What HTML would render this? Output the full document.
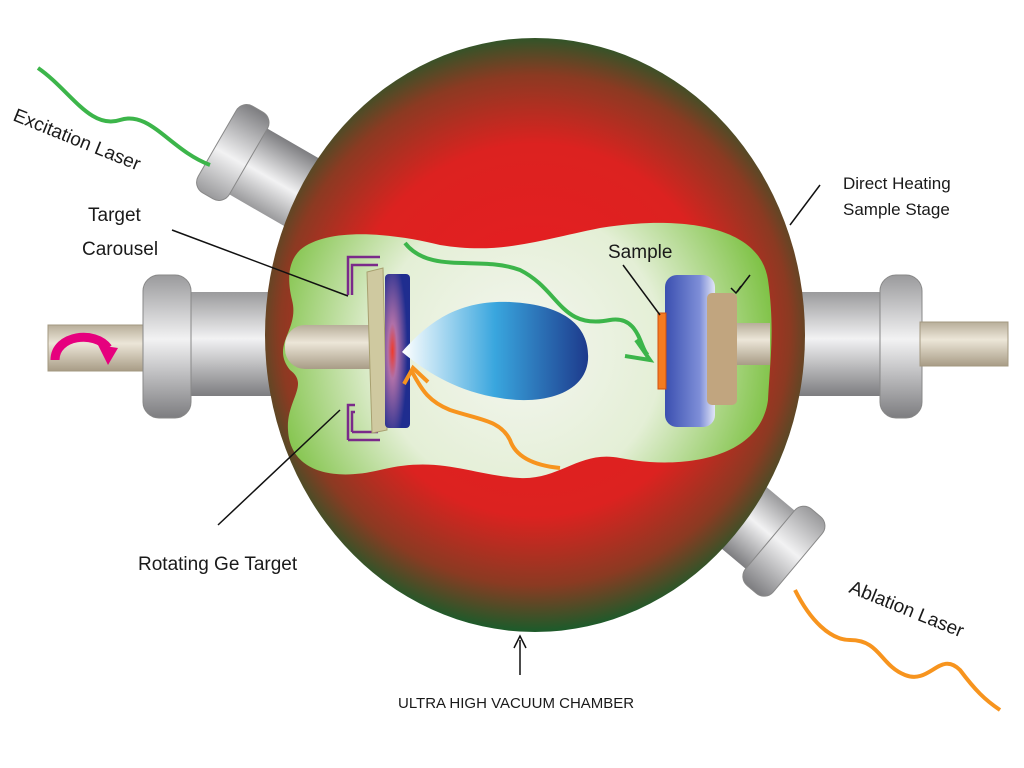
<!DOCTYPE html>
<html><head><meta charset="utf-8"><style>html,body{margin:0;padding:0;background:#fff}svg{display:block}</style></head><body>
<svg width="1024" height="768" viewBox="0 0 1024 768" xmlns="http://www.w3.org/2000/svg" font-family="'Liberation Sans', sans-serif">
<defs>
<radialGradient id="sph" cx="535" cy="330" r="300" gradientUnits="userSpaceOnUse">
<stop offset="0" stop-color="#e81c22"/><stop offset="0.62" stop-color="#dc2220"/><stop offset="0.85" stop-color="#8b3a22"/><stop offset="1" stop-color="#1f5a2a"/></radialGradient>
<radialGradient id="inner" cx="520" cy="350" r="260" gradientUnits="userSpaceOnUse">
<stop offset="0" stop-color="#f4f6f0"/><stop offset="0.55" stop-color="#e4efd6"/><stop offset="1" stop-color="#7cc142"/></radialGradient>
<linearGradient id="metV" x1="0" y1="0" x2="0" y2="1"><stop offset="0" stop-color="#9a9a9c"/><stop offset="0.45" stop-color="#f2f2f3"/><stop offset="1" stop-color="#7d7d80"/></linearGradient>
<linearGradient id="rod" x1="0" y1="0" x2="0" y2="1"><stop offset="0" stop-color="#b8ae9a"/><stop offset="0.4" stop-color="#ece6d8"/><stop offset="1" stop-color="#a89c86"/></linearGradient>
<linearGradient id="plume" x1="0" y1="0" x2="1" y2="0"><stop offset="0" stop-color="#ffffff"/><stop offset="0.5" stop-color="#39a6de"/><stop offset="1" stop-color="#1d3a8c"/></linearGradient>
<linearGradient id="holder" x1="0" y1="0" x2="1" y2="0"><stop offset="0" stop-color="#3a4fb0"/><stop offset="0.7" stop-color="#7f8fd8"/><stop offset="1" stop-color="#e2e6f6"/></linearGradient>
<radialGradient id="tgt" cx="0.3" cy="0.5" r="0.6"><stop offset="0" stop-color="#f03a2a"/><stop offset="0.3" stop-color="#b070a8"/><stop offset="1" stop-color="#1f2d8f"/></radialGradient>
<g id="port">
<rect x="0" y="-38" width="90" height="76" fill="url(#metV)"/>
<rect x="85" y="-50" width="36" height="100" rx="12" fill="url(#metV)" stroke="#888" stroke-width="1"/>
</g>
</defs>
<!-- side ports -->
<rect x="48" y="325" width="110" height="46" fill="url(#rod)" stroke="#a39880"/>
<rect x="180" y="292" width="120" height="104" fill="url(#metV)"/>
<rect x="143" y="275" width="48" height="143" rx="16" fill="url(#metV)" stroke="#888"/>
<rect x="770" y="292" width="115" height="104" fill="url(#metV)"/>
<rect x="880" y="275" width="42" height="143" rx="16" fill="url(#metV)" stroke="#888"/>
<rect x="920" y="322" width="88" height="44" fill="url(#rod)" stroke="#a39880"/>
<!-- angled ports -->
<g transform="translate(322,204) rotate(210)"><use href="#port"/></g>
<g transform="translate(705,485) rotate(40)"><use href="#port"/></g>
<!-- sphere -->
<ellipse cx="535" cy="335" rx="270" ry="297" fill="url(#sph)"/>
<!-- inner chamber -->
<path d="M300,250 C330,225 400,235 440,245 C500,255 540,240 600,228 C680,215 760,225 768,280 C775,330 770,360 768,400 C760,460 680,470 620,458 C580,450 560,480 520,478 C470,475 440,455 380,470 C330,482 290,470 288,430 C286,400 310,385 290,370 C270,345 300,330 292,300 C286,275 290,260 300,250 Z" fill="url(#inner)"/>
<!-- rods inside -->
<rect x="285" y="325" width="110" height="44" rx="20" fill="url(#rod)"/>
<rect x="720" y="323" width="50" height="42" fill="url(#rod)"/>
<!-- carousel brackets -->
<path d="M355,257 H348 V295 M355,265 H352 V295 M355,405 H348 V440 M355,412 H352 V432 M348,440 H380 M352,432 H378 M348,257 H380 M352,265 H378" stroke="#7a2a8a" stroke-width="2.5" fill="none"/>
<!-- target -->
<path d="M367,272 L383,268 L387,430 L372,433 Z" fill="#cfc9a0" stroke="#a8a070"/>
<rect x="385" y="274" width="25" height="154" rx="4" fill="url(#tgt)"/>
<!-- plume -->
<path d="M402,352 C430,320 460,300 510,302 C570,305 590,330 588,360 C585,395 540,405 500,398 C460,392 430,375 402,352 Z" fill="url(#plume)"/>
<!-- sample holder -->
<rect x="665" y="275" width="50" height="152" rx="12" fill="url(#holder)"/>
<rect x="707" y="293" width="30" height="112" rx="5" fill="#c1a57f"/>
<rect x="658" y="313" width="8" height="76" fill="#f47b20" stroke="#d05010" stroke-width="1"/>
<!-- lasers -->
<path d="M38,68 C70,90 90,130 120,120 C150,110 170,150 210,165" stroke="#3cb54a" stroke-width="4" fill="none"/>
<path d="M405,243 C430,275 480,255 520,270 C560,290 560,330 610,320 C640,315 640,350 648,355" stroke="#3cb54a" stroke-width="4" fill="none"/>
<path d="M636,340 L650,360 L625,356" stroke="#3cb54a" stroke-width="4" fill="none"/>
<path d="M412,372 C420,385 425,400 450,410 C480,420 500,420 510,440 C515,455 530,465 560,468" stroke="#f7941e" stroke-width="4" fill="none"/>
<path d="M404,384 L413,368 L428,382" stroke="#f7941e" stroke-width="4" fill="none"/>
<path d="M795,590 C810,620 830,640 850,640 C880,640 880,665 905,675 C930,685 940,650 960,670 C975,690 985,700 1000,710" stroke="#f7941e" stroke-width="4" fill="none"/>
<!-- rotation arrow -->
<path d="M55,360 C55,335 95,330 108,348" stroke="#e6007e" stroke-width="9" fill="none"/>
<path d="M98,345 L118,348 L108,365 Z" fill="#e6007e"/>
<!-- leader lines -->
<g stroke="#111" stroke-width="1.5" fill="none">
<line x1="172" y1="230" x2="348" y2="296"/>
<line x1="218" y1="525" x2="340" y2="410"/>
<line x1="820" y1="185" x2="790" y2="225"/>
<line x1="750" y1="275" x2="737" y2="292"/>
<line x1="623" y1="265" x2="660" y2="315"/>
<line x1="520" y1="675" x2="520" y2="640"/>
<path d="M514,648 L520,636 L526,648"/>
<path d="M731,288 L736,293 L741,286"/>
</g>
<g font-size="19" fill="#1a1a1a">
<text transform="translate(12,120) rotate(22)">Excitation Laser</text>
<text x="88" y="221">Target</text>
<text x="82" y="255">Carousel</text>
<text x="608" y="258">Sample</text>
<text x="843" y="189" font-size="17">Direct Heating</text>
<text x="843" y="215" font-size="17">Sample Stage</text>
<text x="138" y="570">Rotating Ge Target</text>
<text transform="translate(848,592) rotate(22)">Ablation Laser</text>
<text x="398" y="708" font-size="15">ULTRA HIGH VACUUM CHAMBER</text>
</g>
</svg>
</body></html>
